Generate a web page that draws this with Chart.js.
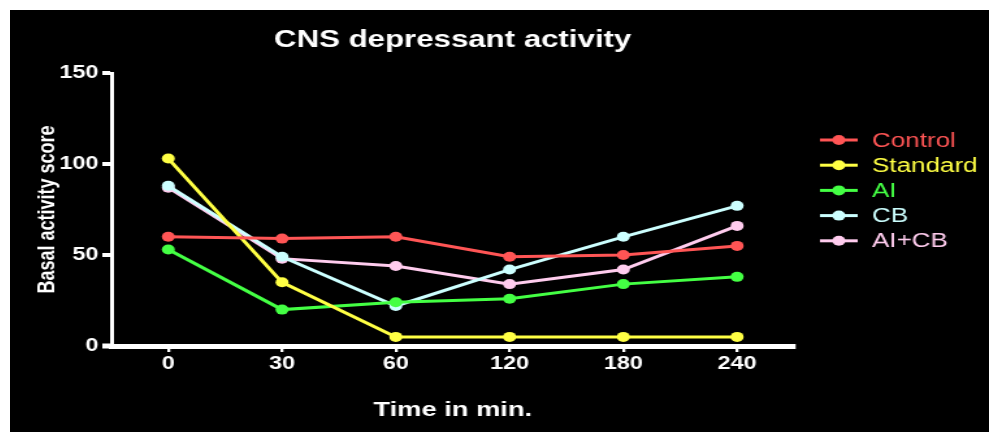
<!DOCTYPE html>
<html>
<head>
<meta charset="utf-8">
<title>CNS depressant activity</title>
<script src="https://cdn.jsdelivr.net/npm/chart.js@4/dist/chart.umd.min.js"></script>
<style>
  html, body { margin: 0; padding: 0; background: #fff; }
  #cadre { position: absolute; left: 10px; top: 10px; width: 979px; height: 422px; background: #000; }
</style>
</head>
<body>
<div id="cadre">
  <!-- the original picture is stretched sideways, so the canvas is drawn narrow and shown wide -->
  <canvas id="graphique" width="753" height="422" style="width:979px;height:422px"></canvas>
</div>
<script>
const temps = ['0', '30', '60', '120', '180', '240']
const controle = [60, 59, 60, 49, 50, 55]
const standard = [103, 35, 5, 5, 5, 5]
const ai = [53, 20, 24, 26, 34, 38]
const cb = [88, 49, 22, 42, 60, 77]
const aiCb = [87, 48, 44, 34, 42, 66]
const noms = ['Control', 'Standard', 'AI', 'CB', 'AI+CB']
const couleurs = ['#ff5555', '#ffff44', '#44ff44', '#ccffff', '#ffccee']
const yTicks = [0, 50, 100, 150]

const police = '"Liberation Sans", Arial, sans-serif'

function serie(i, valeurs) {
  return {
    label: noms[i],
    data: valeurs,
    borderColor: couleurs[i],
    backgroundColor: couleurs[i],
    borderWidth: 3,
    pointRadius: 5,
    pointHoverRadius: 5,
    pointBorderWidth: 0,
    tension: 0,
  }
}

// titre centré sur la zone du graphe + légende ligne/point
const habillage = {
  id: 'habillage',
  afterDraw(chart) {
    const { ctx, chartArea } = chart
    ctx.save()
    ctx.fillStyle = '#fff'
    ctx.font = `bold 24px ${police}`
    ctx.textAlign = 'center'
    ctx.textBaseline = 'middle'
    ctx.fillText('CNS depressant activity', (chartArea.left + chartArea.right) / 2, 30)

    // l'axe x dépasse un peu à gauche de l'axe y
    ctx.fillRect(chartArea.left - 7, chartArea.bottom - 2.5, 8, 5)

    chart.data.datasets.forEach((ds, i) => {
      const y = 130 + i * 25.2
      ctx.strokeStyle = ds.borderColor
      ctx.lineWidth = 3
      ctx.beginPath()
      ctx.moveTo(623, y)
      ctx.lineTo(652, y)
      ctx.stroke()
      ctx.fillStyle = ds.borderColor
      ctx.beginPath()
      ctx.arc(637.5, y, 5, 0, Math.PI * 2)
      ctx.fill()
      ctx.font = `20px ${police}`
      ctx.textAlign = 'left'
      ctx.fillText(ds.label, 663, y + 1)
    })
    ctx.restore()
  },
}

new Chart(document.getElementById('graphique'), {
  type: 'line',
  data: {
    labels: temps,
    datasets: [
      serie(0, controle),
      serie(1, standard),
      serie(2, ai),
      serie(3, cb),
      serie(4, aiCb),
    ],
  },
  options: {
    responsive: false,
    animation: false,
    layout: { padding: { left: 0, top: 63, right: 150, bottom: 0 } },
    plugins: {
      legend: { display: false },
      title: { display: false },
      tooltip: { enabled: false },
    },
    scales: {
      x: {
        offset: true,
        afterFit(scale) { scale.height = 86 },
        grid: {
          offset: false,
          drawOnChartArea: false,
          color: '#fff',
          lineWidth: 2.3,
          tickLength: 6,
          tickColor: '#fff',
          tickWidth: 2.3,
        },
        border: { display: true, color: '#fff', width: 5 },
        ticks: { color: '#fff', font: { family: police, size: 18, weight: 'bold' }, padding: 1, maxRotation: 0 },
        title: {
          display: true,
          text: 'Time in min.',
          color: '#fff',
          font: { family: police, size: 21, weight: 'bold' },
          padding: { top: 0, bottom: 9 },
        },
      },
      y: {
        min: 0,
        max: 150,
        afterFit(scale) { scale.width = 78 },
        afterBuildTicks(scale) { scale.ticks = yTicks.map((v) => ({ value: v })) },
        grid: {
          drawOnChartArea: false,
          color: '#fff',
          lineWidth: 4,
          tickLength: 7,
          tickColor: '#fff',
          tickWidth: 4,
        },
        border: { display: true, color: '#fff', width: 3 },
        ticks: { color: '#fff', font: { family: police, size: 18, weight: 'bold' }, padding: 3 },
        title: {
          display: true,
          text: 'Basal activity score',
          color: '#fff',
          font: { family: police, size: 18, weight: 'bold' },
          padding: { top: 18, bottom: 0 },
        },
      },
    },
  },
  plugins: [habillage],
})
</script>
</body>
</html>
